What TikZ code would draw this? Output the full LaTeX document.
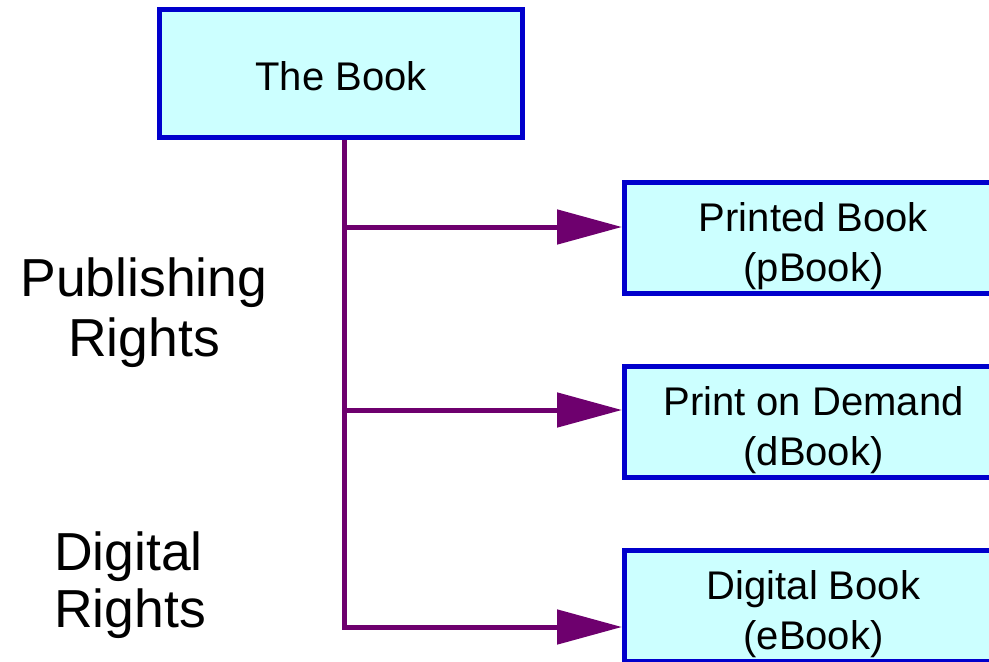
\documentclass[tikz,border=0pt]{standalone}
\usepackage{fontspec}
\setmainfont{Liberation Sans}
\usetikzlibrary{arrows.meta}
\definecolor{boxblue}{RGB}{0,0,204}
\definecolor{boxfill}{RGB}{204,255,255}
\definecolor{linepurple}{RGB}{110,0,110}
\begin{document}
\begin{tikzpicture}[x=1pt,y=-1pt,
  bookbox/.style={draw=boxblue, fill=boxfill, line width=5pt, inner sep=0pt},
  boxtext/.style={font=\fontsize{40}{50}\selectfont, align=center, inner sep=0pt, text=black},
  bigtext/.style={font=\fontsize{53.5}{60}\selectfont, inner sep=0pt, text=black},
  conn/.style={draw=linepurple, line width=5pt},
  arr/.style={conn, -{Triangle[length=65pt,width=34pt]}}]
\useasboundingbox (0,0) rectangle (989,662);
\clip (0,0) rectangle (989,662);
\node[bookbox, minimum width=363pt, minimum height=128pt,
  label={[boxtext, yshift=-2.5pt]center:The Book}] (book) at (341,73.5) {};
\node[bookbox, minimum width=378pt, minimum height=111pt,
  label={[boxtext, yshift=-8pt]center:Printed Book\\(pBook)}] (pbook) at (813.5,238) {};
\node[bookbox, minimum width=378pt, minimum height=111pt,
  label={[boxtext, yshift=-8pt]center:Print on Demand\\(dBook)}] (dbook) at (813.5,422) {};
\node[bookbox, minimum width=378pt, minimum height=111pt,
  label={[boxtext, yshift=-8pt]center:Digital Book\\(eBook)}] (ebook) at (813.5,606) {};
\coordinate (s1) at (344,227);
\coordinate (s2) at (344,410);
\coordinate (s3) at (344,627);
\draw[arr] (book.south -| s1) -- (s3) -- (ebook.west |- s3);
\draw[arr] (s1) -- (pbook.west |- s1);
\draw[arr] (s2) -- (dbook.west |- s2);
\node[bigtext, align=center] (pub) at (144,313) {Publishing\\Rights};
\node[bigtext, align=left, anchor=west, font=\fontsize{53.5}{57}\selectfont] (dig) at (54,585) {Digital\\Rights};
\end{tikzpicture}
\end{document}
